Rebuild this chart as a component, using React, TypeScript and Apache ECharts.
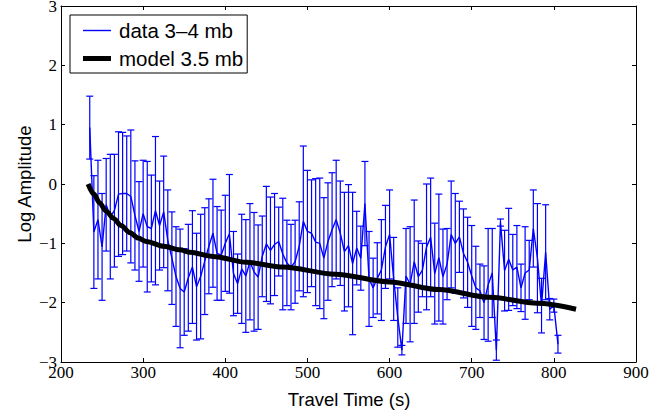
import React, { useEffect, useRef } from "react";
import * as echarts from "echarts";

// Travel time bins (s)
const travelTime = [
  235, 240, 245, 250, 255, 260, 265, 270, 275, 280,
  285, 290, 295, 300, 305, 310, 315, 320, 325, 330,
  335, 340, 345, 350, 355, 360, 365, 370, 375, 380,
  385, 390, 395, 400, 405, 410, 415, 420, 425, 430,
  435, 440, 445, 450, 455, 460, 465, 470, 475, 480,
  485, 490, 495, 500, 505, 510, 515, 520, 525, 530,
  535, 540, 545, 550, 555, 560, 565, 570, 575, 580,
  585, 590, 595, 600, 605, 610, 615, 620, 625, 630,
  635, 640, 645, 650, 655, 660, 665, 670, 675, 680,
  685, 690, 695, 700, 705, 710, 715, 720, 725, 730,
  735, 740, 745, 750, 755, 760, 765, 770, 775, 780,
  785, 790, 795, 800, 805,
];

// Observed log amplitude (data 3–4 mb)
const logAmp = [
  0.95, -0.81, -0.6, -1.06, -0.35, -0.55, -0.45, -0.17, -0.16, -0.16,
  -0.21, -0.53, -0.8, -0.5, -0.72, -0.75, -0.45, -0.7, -0.47, -0.95,
  -1.25, -1.56, -1.76, -1.82, -1.58, -1.4, -1.73, -1.56, -1.3, -1.05,
  -0.83, -1.17, -1.2, -1.0, -0.84, -1.51, -1.68, -1.43, -1.55, -1.31,
  -1.48, -1.57, -1.22, -1.01, -1.12, -1.02, -0.97, -1.18, -1.33, -1.4,
  -1.31, -1.05, -0.63, -0.8, -0.83, -0.98, -1.0, -1.25, -0.97, -0.77,
  -0.6, -0.83, -1.14, -1.04, -1.34, -1.08, -1.25, -0.33, -1.6, -1.75,
  -1.59, -1.45, -1.06, -0.85, -1.6, -2.25, -2.8, -1.55, -1.69, -1.31,
  -1.56, -1.45, -1.06, -0.9, -1.51, -1.24, -1.56, -1.35, -0.85, -1.0,
  -0.89, -1.17, -1.32, -1.55, -1.75, -1.8, -2.0, -1.7, -1.5, -2.8,
  -0.65, -1.46, -1.27, -1.45, -1.4, -1.75, -1.5, -1.45, -0.75, -1.25,
  -2.05, -1.15, -2.11, -2.05, -2.7,
];

// Symmetric error (half-length of error bar)
const logAmpErr = [
  0.53, 0.95, 1.0, 0.9, 0.78, 1.05, 0.95, 1.05, 1.03, 0.97,
  1.12, 0.92, 0.84, 0.9, 1.1, 0.9, 1.25, 0.75, 0.94, 0.85,
  0.78, 0.84, 1.0, 0.73, 0.9, 0.95, 0.9, 1.05, 0.9, 0.8,
  0.91, 0.79, 0.76, 0.81, 1.0, 0.71, 0.5, 0.92, 0.95, 0.98,
  1.0, 0.88, 0.68, 0.97, 0.9, 0.86, 0.58, 0.94, 0.72, 0.72,
  0.7, 0.75, 1.27, 1.03, 0.9, 1.07, 1.1, 1.02, 0.99, 0.96,
  1.0, 0.88, 1.0, 1.03, 1.2, 0.62, 0.54, 0.71, 0.8, 0.5,
  0.6, 0.85, 0.7, 0.75, 0.7, 0.5, 0.08, 0.8, 0.97, 1.04,
  0.6, 0.45, 1.06, 1.0, 0.85, 1.07, 0.8, 0.6, 0.9, 0.84,
  0.6, 0.75, 0.76, 0.85, 0.7, 0.45, 0.62, 0.95, 0.75, 0.17,
  0.06, 0.68, 0.86, 0.6, 0.7, 0.4, 0.78, 0.5, 0.65, 0.92,
  0.46, 0.8, 0.18, 0.11, 0.15,
];

// Model curve (model 3.5 mb)
const modelTime = [233, 240, 247, 255, 264, 273, 284, 294, 304, 325, 345, 357, 385, 426, 470, 534, 600, 660, 722, 780, 827];
const modelAmp = [0.0, -0.17, -0.32, -0.46, -0.58, -0.7, -0.82, -0.91, -0.97, -1.05, -1.11, -1.15, -1.22, -1.32, -1.4, -1.52, -1.65, -1.78, -1.91, -2.01, -2.11];

const xTickMin = 200;
const xTickMax = 900;
const yTickMin = -3;
const yTickMax = 3;

const dataName = "data 3\u20134 mb";
const modelName = "model 3.5 mb";

const BLUE = "#0000ff";
const SERIF = "'Liberation Serif', 'DejaVu Serif', serif";
const SANS = "'Liberation Sans', Arial, sans-serif";

export default function App() {
  const ref = useRef<HTMLDivElement>(null);

  useEffect(() => {
    if (!ref.current) return;
    const chart = echarts.init(ref.current, null, { renderer: "svg" });

    const lineData = travelTime.map((t, i) => [t, logAmp[i]]);
    const errData = travelTime.map((t, i) => [t, logAmp[i] - logAmpErr[i], logAmp[i] + logAmpErr[i]]);
    const modelData = modelTime.map((t, i) => [t, modelAmp[i]]);

    const axisLine = { show: true, onZero: false, lineStyle: { color: "#000", width: 1 } };
    const axisTick = { show: true, inside: true, length: 4, lineStyle: { color: "#000", width: 1 } };
    const minusFmt = (v: number) => (v < 0 ? "\u2212" + Math.abs(v) : String(v));

    chart.setOption({
      animation: false,
      backgroundColor: "#fff",
      grid: { left: 61, right: 36, top: 6, bottom: 54, outerBoundsMode: "none" },
      legend: {
        data: [
          { name: dataName, icon: "path://M0,0 H28 V1.4 H0 Z" },
          { name: modelName, icon: "path://M0,0 H28 V5 H0 Z" },
        ],
        orient: "vertical",
        left: 70,
        top: 15,
        padding: [5, 4, 4, 13],
        itemGap: 7,
        itemWidth: 28,
        itemHeight: 14,
        symbolKeepAspect: true,
        backgroundColor: "#fff",
        borderColor: "#000",
        borderWidth: 1,
        borderRadius: 0,
        textStyle: { fontFamily: SANS, fontSize: 20.5, color: "#000", lineHeight: 20, padding: [0, 0, 0, 3] },
      },
      xAxis: [
        {
          type: "value",
          position: "bottom",
          min: xTickMin,
          max: xTickMax,
          interval: 100,
          axisLine,
          axisTick,
          splitLine: { show: false },
          axisLabel: { color: "#000", fontFamily: SERIF, fontSize: 17, margin: 2 },
        },
        {
          type: "value",
          position: "top",
          min: xTickMin,
          max: xTickMax,
          interval: 100,
          axisLine,
          axisTick,
          splitLine: { show: false },
          axisLabel: { show: false },
        },
      ],
      yAxis: [
        {
          type: "value",
          position: "left",
          min: yTickMin,
          max: yTickMax,
          interval: 1,
          axisLine,
          axisTick,
          splitLine: { show: false },
          axisLabel: { color: "#000", fontFamily: SERIF, fontSize: 17, margin: 4, formatter: minusFmt },
        },
        {
          type: "value",
          position: "right",
          min: yTickMin,
          max: yTickMax,
          interval: 1,
          axisLine,
          axisTick,
          splitLine: { show: false },
          axisLabel: { show: false },
        },
      ],
      series: [
        {
          name: "errors",
          type: "custom",
          xAxisIndex: 0,
          yAxisIndex: 0,
          z: 2,
          data: errData,
          encode: { x: 0, y: [1, 2] },
          renderItem: (params: any, api: any) => {
            const x = api.value(0);
            const lo = api.coord([x, api.value(1)]);
            const hi = api.coord([x, api.value(2)]);
            const cw = 3.5;
            const style = { stroke: BLUE, lineWidth: 1.2 };
            return {
              type: "group",
              children: [
                { type: "line", shape: { x1: hi[0], y1: hi[1], x2: lo[0], y2: lo[1] }, style },
                { type: "line", shape: { x1: hi[0] - cw, y1: hi[1], x2: hi[0] + cw, y2: hi[1] }, style },
                { type: "line", shape: { x1: lo[0] - cw, y1: lo[1], x2: lo[0] + cw, y2: lo[1] }, style },
              ],
            };
          },
        },
        {
          name: dataName,
          type: "line",
          z: 3,
          data: lineData,
          symbol: "none",
          lineStyle: { color: BLUE, width: 1.4 },
          itemStyle: { color: BLUE },
        },
        {
          name: modelName,
          type: "line",
          z: 4,
          data: modelData,
          symbol: "none",
          smooth: 0.3,
          smoothMonotone: "x",
          lineStyle: { color: "#000", width: 5 },
          itemStyle: { color: "#000" },
        },
      ],
      graphic: [
        {
          type: "text",
          x: 24,
          y: 184,
          rotation: Math.PI / 2,
          style: { text: "Log Amplitude", font: `18.5px ${SANS}`, fill: "#000", textAlign: "center", textVerticalAlign: "middle" },
        },
        {
          type: "text",
          x: 349,
          y: 399,
          style: { text: "Travel Time (s)", font: `18.5px ${SANS}`, fill: "#000", textAlign: "center", textVerticalAlign: "middle" },
        },
      ],
    });

    return () => chart.dispose();
  }, []);

  return <div ref={ref} style={{ position: "fixed", left: 0, top: 0, width: 672, height: 416 }} />;
}
